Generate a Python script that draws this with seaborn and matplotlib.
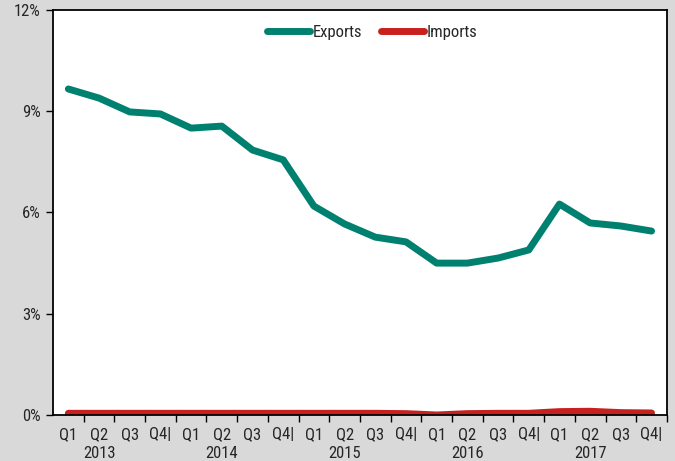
import numpy as np
import pandas as pd
import matplotlib
matplotlib.use('Agg')
import matplotlib.pyplot as plt
import seaborn as sns
from matplotlib.ticker import FuncFormatter, FixedLocator

# quarterly share values, in percent
quarters = ['Q1', 'Q2', 'Q3', 'Q4|'] * 5
years = ['2013', '2014', '2015', '2016', '2017']
exports = [9.66, 9.39, 8.98, 8.92, 8.50, 8.56, 7.85, 7.56,
           6.19, 5.66, 5.27, 5.13, 4.50, 4.50, 4.65, 4.89,
           6.25, 5.69, 5.60, 5.45]
imports = [0.05, 0.05, 0.05, 0.05, 0.05, 0.05, 0.05, 0.05,
           0.05, 0.05, 0.05, 0.04, 0.00, 0.04, 0.05, 0.05,
           0.10, 0.11, 0.07, 0.06]

sns.set_style('white')
plt.rcParams['font.family'] = ['Roboto Condensed', 'Liberation Sans', 'DejaVu Sans']
fs = 12

idx = np.arange(len(exports))
df = pd.DataFrame({
    'x': np.concatenate([idx, idx]),
    'value': exports + imports,
    'series': ['Exports'] * len(exports) + ['Imports'] * len(imports),
})

fig = plt.figure(figsize=(6.75, 4.61), dpi=100, facecolor='#d9d9d9')
ax = fig.add_axes([0.0785, 0.0998, 0.9095, 0.8785])
ax.set_facecolor('white')

sns.lineplot(data=df, x='x', y='value', hue='series',
             palette={'Exports': '#00806f', 'Imports': '#c8201e'},
             linewidth=5, ax=ax, solid_capstyle='round')

ax.set_xlim(-0.5, len(exports) - 0.5)
ax.set_ylim(0, 12)
ax.set_yticks([0, 3, 6, 9, 12])
ax.yaxis.set_major_formatter(FuncFormatter(lambda v, p: f'{v:.0f}%'))

# category labels centred on points, year under Q2
labels = []
for i, q in enumerate(quarters):
    if i % 4 == 1:
        labels.append(q + '\n' + years[i // 4])
    else:
        labels.append(q)
ax.set_xticks(idx)
ax.set_xticklabels(labels, linespacing=1.3, va='top')
ax.xaxis.set_minor_locator(FixedLocator(np.arange(0.5, len(exports), 1)))
ax.tick_params(axis='x', which='major', length=0, pad=9, labelsize=fs)
ax.tick_params(axis='x', which='minor', length=5, width=1, direction='out', color='black')
ax.tick_params(axis='y', which='major', length=5, width=1, direction='out',
               color='black', labelsize=fs, pad=4)
ax.tick_params(bottom=True, left=True, which='both')

for s in ax.spines.values():
    s.set_color('black')
    s.set_linewidth(1.3)

ax.set_xlabel('')
ax.set_ylabel('')

leg = ax.legend(loc='upper center', bbox_to_anchor=(0.52, 1.0), ncol=2, frameon=False,
                fontsize=fs, handlelength=2.6, columnspacing=1.1, handletextpad=0.15)
for line in leg.get_lines():
    line.set_linewidth(5)
    line.set_solid_capstyle('round')

fig.savefig('out.png', dpi=100, facecolor=fig.get_facecolor())
